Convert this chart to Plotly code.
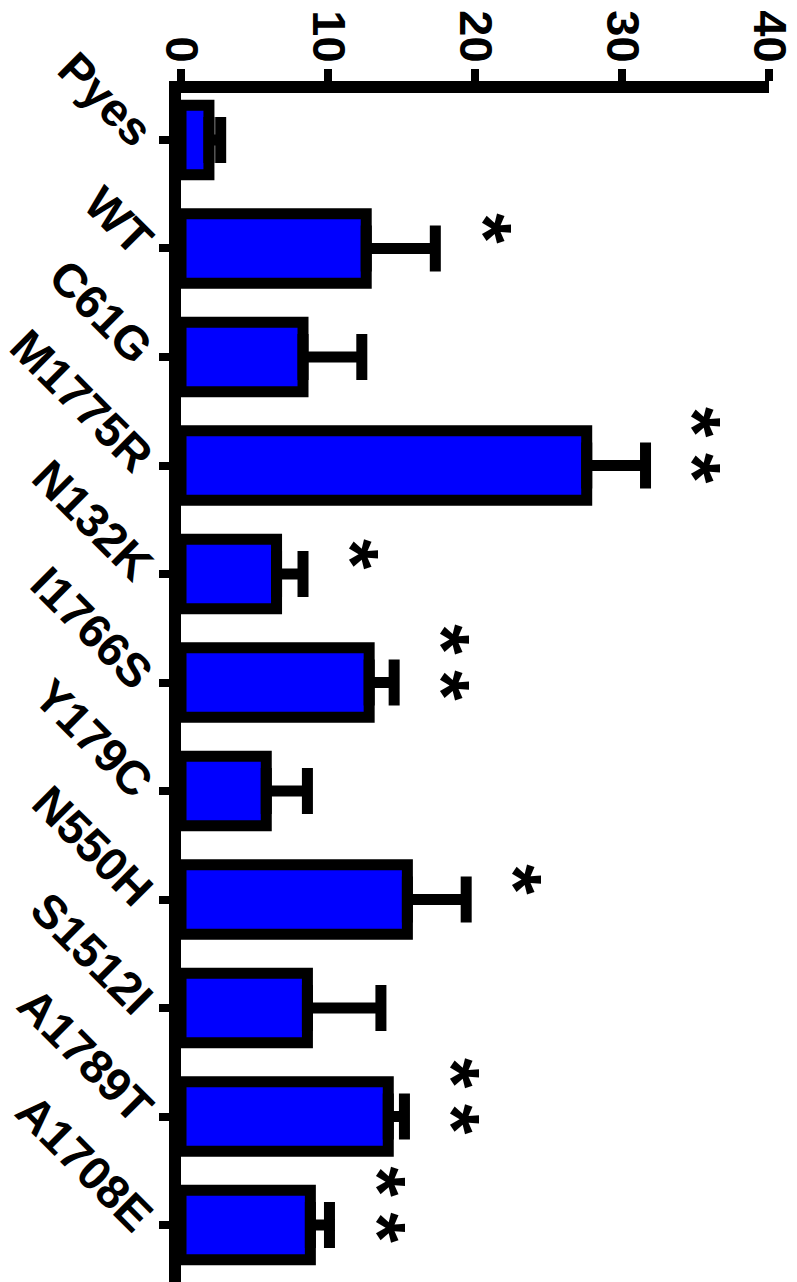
import plotly.graph_objects as go

# Mutant constructs and measured activity (mean, SEM)
constructs = ["Pyes", "WT", "C61G", "M1775R", "N132K", "I1766S",
              "Y179C", "N550H", "S1512I", "A1789T", "A1708E"]
means = [1.9, 12.6, 8.3, 27.6, 6.5, 12.8, 5.8, 15.4, 8.6, 14.1, 8.8]
sems = [0.8, 4.7, 4.0, 4.0, 1.8, 1.7, 2.8, 4.0, 5.0, 1.1, 1.3]
significance = ["", "*", "", "**", "*", "**", "", "*", "", "**", "**"]
value_ticks = [0, 10, 20, 30, 40]

FONT = "Liberation Sans, Arial, sans-serif"
BOLD = dict(family=FONT, size=47, color="black", weight="bold")
LW = 12
THIN_SPACE = "\u2009"

fig = go.Figure()
fig.add_trace(go.Bar(
    x=means,
    y=constructs,
    orientation="h",
    width=0.64,
    marker=dict(color="#0000FF", line=dict(color="black", width=11)),
    error_x=dict(type="data", array=sems, arrayminus=[0] * len(sems),
                 symmetric=False, color="black", thickness=11, width=23),
))

# significance stars to the right of each error bar
for name, m, e, s in zip(constructs, means, sems, significance):
    if not s:
        continue
    fig.add_annotation(
        x=m + e, y=name, xref="x", yref="y",
        text=THIN_SPACE.join(s), showarrow=False, textangle=90,
        xanchor="center", xshift=48, yshift=20,
        font=dict(family=FONT, size=78, color="black", weight="bold"),
    )

fig.update_layout(
    width=797, height=1282,
    margin=dict(l=180, r=24, t=93, b=0, pad=0),
    paper_bgcolor="white", plot_bgcolor="white",
    showlegend=False,
)
fig.update_xaxes(
    side="top", range=[0, 40], tickvals=value_ticks,
    ticktext=[str(v) for v in value_ticks],
    tickangle=90, tickfont=BOLD, ticklabeloverflow="allow",
    ticklabelstandoff=-10,
    showline=True, linecolor="black", linewidth=LW,
    ticks="outside", ticklen=12, tickwidth=8, tickcolor="black",
    showgrid=False, zeroline=False,
)
fig.update_yaxes(
    autorange=False, range=[10.525, -0.433],
    tickangle=45, tickfont=BOLD,
    showline=True, linecolor="black", linewidth=LW,
    ticks="outside", ticklen=10, tickwidth=8, tickcolor="black",
    showgrid=False, zeroline=False,
)

fig.write_html("out.html")
